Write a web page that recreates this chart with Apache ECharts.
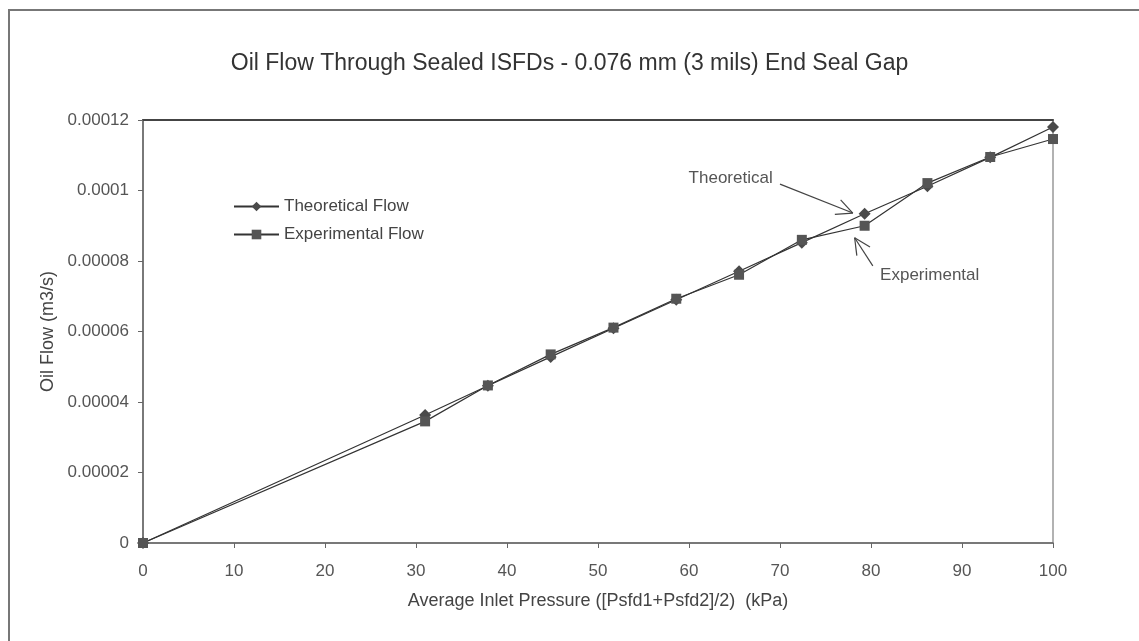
<!DOCTYPE html>
<html>
<head>
<meta charset="utf-8">
<script src="https://cdn.jsdelivr.net/npm/echarts@6/dist/echarts.min.js"></script>
<style>
html,body{margin:0;padding:0;background:#fff;}
#c{width:1139px;height:641px;}
</style>
</head>
<body>
<div id="c"></div>
<script>
// ---- data ----
var pressureKPa = [0, 31.0, 37.9, 44.8, 51.7, 58.6, 65.5, 72.4, 79.3, 86.2, 93.1, 100.0];
var theoreticalFlow = [0, 0.0000363, 0.0000446, 0.0000528, 0.0000609, 0.0000690, 0.0000771, 0.0000852, 0.0000934, 0.0001012, 0.0001094, 0.0001180];
var experimentalFlow = [0, 0.0000345, 0.0000447, 0.0000535, 0.0000611, 0.0000693, 0.0000761, 0.0000860, 0.0000900, 0.0001021, 0.0001095, 0.0001146];
var seriesNames = ['Theoretical Flow', 'Experimental Flow'];
var titleText = 'Oil Flow Through Sealed ISFDs - 0.076 mm (3 mils) End Seal Gap';
var xAxisName = 'Average Inlet Pressure ([Psfd1+Psfd2]/2)  (kPa)';
var yAxisName = 'Oil Flow (m3/s)';
// annotation anchors in data units: [text, textX, textY, arrowTailX, arrowTailY, arrowTipX, arrowTipY]
var annoTheoretical = ['Theoretical', 69.2, 0.0001035, 70.0, 0.0001018, 78.0, 0.0000936];
var annoExperimental = ['Experimental', 81.0, 0.0000758, 80.2, 0.0000786, 78.2, 0.0000866];

function pairs(xs, ys){ return xs.map(function(x,i){ return [x, ys[i]]; }); }

var font = 'Liberation Sans, Arial, sans-serif';
var chart = echarts.init(document.getElementById('c'), null, {renderer:'canvas'});
var option = {
  backgroundColor:'#ffffff',
  animation:false,
  title:{
    text:titleText, left:'center', top:47,
    textStyle:{fontFamily:font, fontSize:23, fontWeight:'normal', color:'#333'}
  },
  legend:{
    orient:'vertical', left:228, top:193, itemWidth:45, itemHeight:12, itemGap:11,
    textStyle:{fontFamily:font, fontSize:17, color:'#444'},
    data:seriesNames
  },
  grid:{left:143, right:86, top:120, bottom:98, show:true, borderColor:'#999', borderWidth:1.5},
  xAxis:[{
    type:'value', min:0, max:100, interval:10,
    name:xAxisName, nameLocation:'middle', nameGap:49,
    nameTextStyle:{fontFamily:font, fontSize:18, color:'#444'},
    axisLine:{lineStyle:{color:'#666', width:1.5}},
    axisTick:{show:true, length:5, lineStyle:{color:'#666'}},
    axisLabel:{fontFamily:font, fontSize:17, color:'#555', margin:20},
    splitLine:{show:false}
  },{
    type:'value', min:0, max:100, position:'top',
    axisLine:{show:true, lineStyle:{color:'#444', width:2}},
    axisTick:{show:false}, axisLabel:{show:false}, splitLine:{show:false}
  }],
  yAxis:{
    type:'value', min:0, max:0.00012, interval:0.00002,
    name:yAxisName, nameLocation:'middle', nameGap:84,
    nameTextStyle:{fontFamily:font, fontSize:18, color:'#444'},
    axisLine:{show:true, lineStyle:{color:'#666', width:1.5}},
    axisTick:{show:true, length:5, lineStyle:{color:'#666'}},
    axisLabel:{fontFamily:font, fontSize:17, color:'#555', margin:14,
      formatter:function(v){ return String(parseFloat(v.toFixed(7))); }},
    splitLine:{show:false}
  },
  series:[
    {name:seriesNames[0], type:'line', data:pairs(pressureKPa, theoreticalFlow),
     symbol:'diamond', symbolSize:12, showAllSymbol:true,
     lineStyle:{color:'#333', width:1.2}, itemStyle:{color:'#4a4a4a'}},
    {name:seriesNames[1], type:'line', data:pairs(pressureKPa, experimentalFlow),
     symbol:'rect', symbolSize:10, showAllSymbol:true,
     lineStyle:{color:'#333', width:1.2}, itemStyle:{color:'#555555'}}
  ]
};
chart.setOption(option);

function arrowGraphics(a, textAlign){
  var t = chart.convertToPixel({gridIndex:0}, [a[1], a[2]]);
  var p0 = chart.convertToPixel({gridIndex:0}, [a[3], a[4]]);
  var p1 = chart.convertToPixel({gridIndex:0}, [a[5], a[6]]);
  var ang = Math.atan2(p1[1]-p0[1], p1[0]-p0[0]);
  var L = 18, spread = 0.45;
  var b1 = [p1[0]-L*Math.cos(ang-spread), p1[1]-L*Math.sin(ang-spread)];
  var b2 = [p1[0]-L*Math.cos(ang+spread), p1[1]-L*Math.sin(ang+spread)];
  var st = {stroke:'#444', lineWidth:1.2};
  return [
    {type:'text', x:t[0], y:t[1], style:{text:a[0], fill:'#555', font:'17px '+font, textAlign:textAlign, textVerticalAlign:'middle'}},
    {type:'line', shape:{x1:p0[0], y1:p0[1], x2:p1[0], y2:p1[1]}, style:st},
    {type:'line', shape:{x1:b1[0], y1:b1[1], x2:p1[0], y2:p1[1]}, style:st},
    {type:'line', shape:{x1:b2[0], y1:b2[1], x2:p1[0], y2:p1[1]}, style:st}
  ];
}
var g = [
  {type:'rect', shape:{x:9, y:10, width:1200, height:700}, style:{fill:'none', stroke:'#777', lineWidth:2}, silent:true}
].concat(arrowGraphics(annoTheoretical, 'right')).concat(arrowGraphics(annoExperimental, 'left'));
chart.setOption({graphic:g});
</script>
</body>
</html>
